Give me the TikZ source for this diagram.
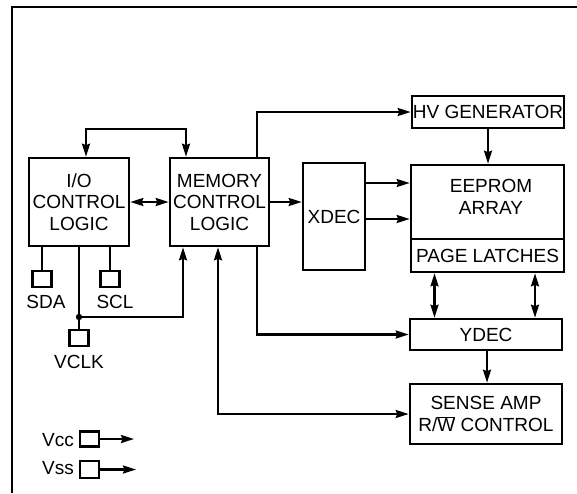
\documentclass[tikz,border=0pt]{standalone}
\usepackage{fontspec}
\setmainfont{Liberation Sans}
\usetikzlibrary{arrows.meta}
\begin{document}
\begin{tikzpicture}[x=1pt,y=-1pt,
  box/.style={draw,line width=2.6pt,inner sep=0pt,align=center,font=\fontsize{19}{21.5}\selectfont},
  pinbox/.style={draw,line width=2.3pt,minimum width=19pt,minimum height=16pt,inner sep=0pt},
  lbl/.style={inner sep=0pt,font=\fontsize{19}{21.5}\selectfont},
  wire/.style={line width=2.2pt},
  tip/.tip={Stealth[length=13pt,width=8pt,inset=1.5pt]},
  arr/.style={wire,-tip},
  darr/.style={wire,tip-tip},
  frame/.style={line width=2.6pt}
]
\useasboundingbox (0,0) rectangle (577,493);
\draw[frame] (12,493) -- (12,7) -- (577,7);

% main blocks
\node[box,minimum width=100pt,minimum height=88pt] (io) at (79,202) {I/O\\CONTROL\\LOGIC};
\node[box,minimum width=99pt,minimum height=88pt] (mem) at (219.5,202) {MEMORY\\CONTROL\\LOGIC};
\node[box,minimum width=62pt,minimum height=107pt] (xdec) at (334,216.5) {XDEC};
\node[box,minimum width=152pt,minimum height=32pt] (hv) at (488,112) {HV GENERATOR};
\node[box,minimum width=153pt,minimum height=74pt] (ee) at (487.5,202) {};
\node[lbl,align=center] (eetxt) at (491,197) {EEPROM\\ARRAY};
\node[box,minimum width=153pt,minimum height=33pt] (pl) at (487.5,255.5) {PAGE LATCHES};
\node[box,minimum width=152pt,minimum height=31pt] (ydec) at (486,334.5) {YDEC};
\node[box,minimum width=152pt,minimum height=60pt] (sense) at (486,414) {SENSE AMP\\R/$\overline{\hbox{W}}$ CONTROL};

% pins
\node[pinbox] (sda) at (42,279) {};
\node[pinbox] (scl) at (110,279) {};
\node[pinbox] (vclk) at (79,338) {};
\node[lbl] (sdal) at (46,302) {SDA};
\node[lbl] (scll) at (115,302) {SCL};
\node[lbl] (vclkl) at (79,362) {VCLK};
\node[pinbox,minimum height=15pt] (vccpin) at (89.5,439) {};
\node[pinbox,minimum height=17pt] (vsspin) at (89.5,469.5) {};
\node[lbl,anchor=east] (vccl) at (74,440) {Vcc};
\node[lbl,anchor=east] (vssl) at (74,468) {Vss};
\coordinate (vcce) at (134,439);
\coordinate (vsse) at (136,469.5);
\draw[arr] (vccpin.east) -- (vcce);
\draw[arr] (vsspin.east) -- (vsse);

% helper coordinates
\coordinate (tl) at (86,129);
\coordinate (tr) at (186,129);
\coordinate (mh) at (257,0);
\coordinate (x1) at (0,183);
\coordinate (x2) at (0,219);
\coordinate (p1) at (434.5,0);
\coordinate (p2) at (535,0);
\coordinate (ys) at (487,0);
\coordinate (ms) at (218,0);
\coordinate (j) at (79,317);
\coordinate (jr) at (183,317);

% pin wires
\draw[wire] (io.south -| sda) -- (sda.north);
\draw[wire] (io.south -| scl) -- (scl.north);
\draw[wire] (io.south -| j) -- (vclk.north);
\fill (j) circle (3.2pt);
\draw[arr] (j) -- (jr) -- (mem.south -| jr);

% connectors
\draw[darr] (io.north -| tl) -- (tl) -- (tr) -- (mem.north -| tr);
\draw[darr] (io.east) -- (mem.west);
\draw[arr] (mem.east) -- (xdec.west |- mem.east);
\draw[arr] (mem.north -| mh) |- (hv.west);
\draw[arr] (hv.south) -- (hv.south |- ee.north);
\draw[arr] (xdec.east |- x1) -- (ee.west |- x1);
\draw[arr] (xdec.east |- x2) -- (ee.west |- x2);
\draw[darr] (pl.south -| p1) -- (ydec.north -| p1);
\draw[darr] (pl.south -| p2) -- (ydec.north -| p2);
\draw[arr] (mem.south -| mh) |- (ydec.west);
\draw[arr] (ydec.south -| ys) -- (sense.north -| ys);
\draw[darr] (mem.south -| ms) |- (sense.west);
\end{tikzpicture}
\end{document}
